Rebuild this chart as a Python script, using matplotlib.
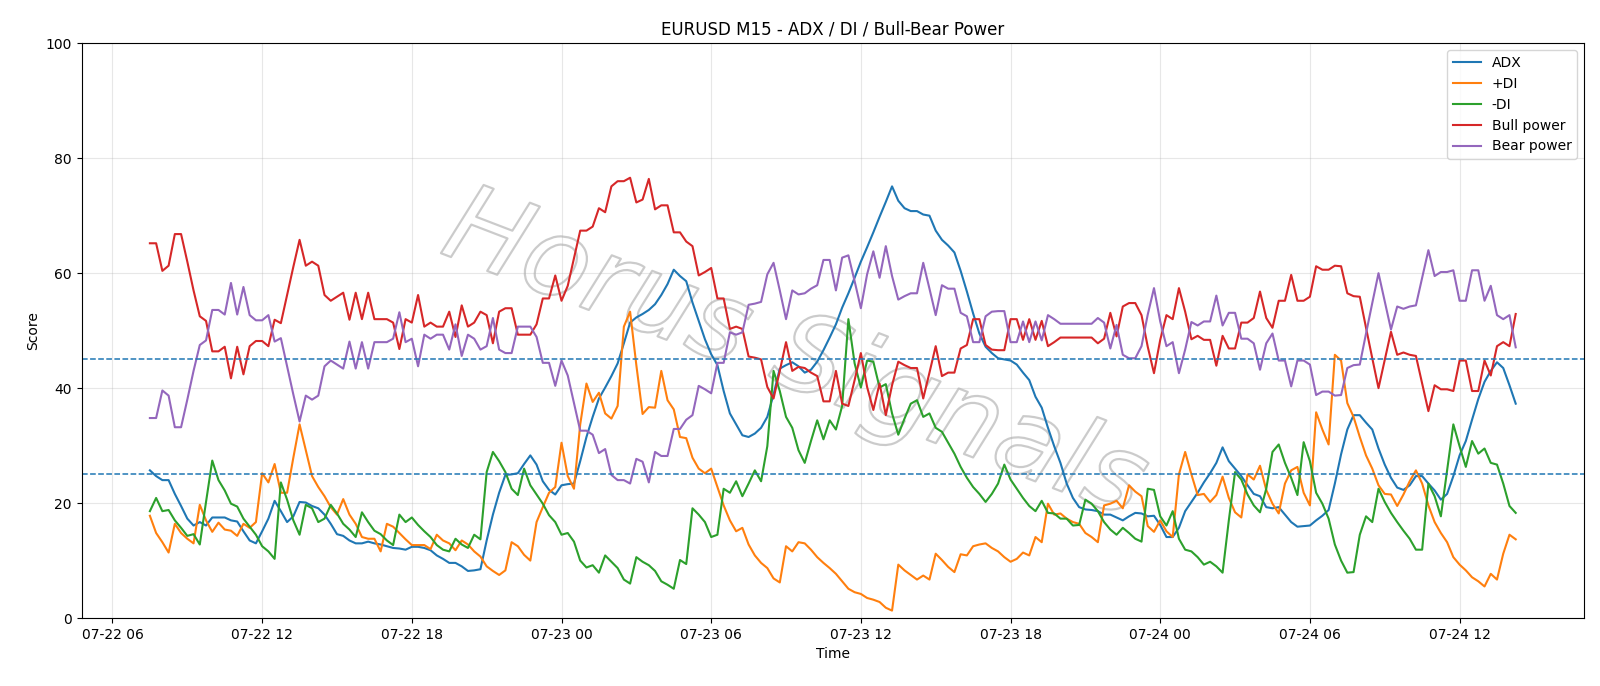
import matplotlib
matplotlib.use("Agg")
import matplotlib.pyplot as plt
import matplotlib.dates as mdates
import matplotlib.patheffects as pe
import pandas as pd

# 15-minute bars, 07-22 07:30 -> 07-24 14:15
start_time = "2025-07-22 07:30"
n_bars = 220

adx = [
    25.7, 24.7, 24.0, 24.0, 21.6, 19.5, 17.3, 16.1, 16.7, 16.1, 17.5, 17.5, 17.5, 17.0, 16.8, 15.1,
    13.5, 13.0, 15.1, 17.3, 20.4, 18.6, 16.7, 17.7, 20.2, 20.1, 19.5, 19.1, 18.0, 16.4, 14.6, 14.3, 13.5,
    13.0, 13.0, 13.3, 13.0, 12.8, 12.5, 12.2, 12.1, 11.9, 12.4, 12.4, 12.2, 11.8, 10.9, 10.3, 9.6,
    9.6, 9.0, 8.2, 8.3, 8.5, 13.5, 18.0, 21.8, 24.9, 25.0, 25.2, 26.8, 28.3, 26.7, 23.8, 22.3,
    21.5, 23.1, 23.3, 23.4, 27.3, 31.5, 35.0, 38.2, 40.1, 42.1, 44.3, 47.8, 51.4, 52.3, 52.9, 53.6,
    54.6, 56.2, 58.1, 60.6, 59.5, 58.6, 54.9, 51.7, 48.5, 45.9, 44.0, 39.5, 35.6, 33.7, 31.8, 31.5,
    32.1, 33.1, 35.0, 38.9, 43.4, 44.0, 44.5, 43.8, 42.7, 43.2, 44.6, 46.6, 48.8, 51.1, 54.0, 56.5,
    59.2, 62.0, 64.5, 67.1, 69.8, 72.4, 75.1, 72.6, 71.3, 70.8, 70.8, 70.2, 70.0, 67.4, 65.8, 64.8,
    63.6, 60.4, 56.8, 53.0, 49.5, 47.2, 46.1, 45.2, 45.0, 44.8, 44.1, 42.7, 41.4, 38.5, 36.6, 33.1,
    29.9, 27.0, 23.4, 20.9, 19.3, 18.9, 18.8, 18.6, 18.0, 18.0, 17.5, 17.0, 17.7, 18.3, 18.2, 17.7,
    17.8, 16.2, 14.1, 14.1, 15.7, 18.6, 20.2, 21.8, 23.6, 25.2, 27.0, 29.7, 27.3, 26.0, 24.7, 23.1,
    21.6, 21.2, 19.3, 19.1, 19.3, 18.0, 16.7, 15.9, 16.0, 16.1, 17.0, 17.8, 18.8, 23.4, 28.5, 32.8,
    35.3, 35.3, 34.0, 32.8, 29.5, 26.7, 24.4, 22.7, 22.3, 23.1, 24.7, 24.7, 23.4, 22.2, 20.6, 21.6,
    24.7, 28.3, 30.8, 34.5, 38.1, 41.1, 43.0, 44.5, 43.5, 40.5, 37.3,
]

plus_di = [
    17.8, 14.8, 13.2, 11.4, 16.4, 14.8, 13.8, 13.0, 19.7, 17.0, 15.0, 16.6, 15.4, 15.2, 14.3, 16.4,
    15.7, 16.7, 25.2, 23.6, 26.8, 21.8, 21.8, 27.9, 33.7, 29.2, 24.7, 22.8, 21.2, 19.3, 18.0, 20.7, 18.0,
    16.4, 14.1, 13.8, 13.8, 11.6, 16.4, 15.9, 14.8, 13.7, 12.7, 12.7, 12.7, 12.0, 14.5, 13.5, 13.0,
    11.8, 13.5, 12.8, 11.6, 10.7, 9.0, 8.2, 7.5, 8.3, 13.2, 12.5, 11.0, 10.0, 16.7, 19.3, 21.8,
    22.8, 30.5, 24.7, 22.5, 33.7, 40.8, 37.6, 39.2, 35.6, 34.7, 36.9, 50.7, 53.3, 44.0, 35.5, 36.7,
    36.6, 43.0, 37.9, 36.3, 31.5, 31.3, 27.9, 26.0, 25.2, 26.0, 22.8, 19.6, 17.0, 15.1, 15.7, 12.8,
    10.9, 9.6, 8.7, 6.9, 6.2, 12.5, 11.6, 13.2, 13.0, 11.9, 10.6, 9.6, 8.7, 7.7, 6.4, 5.1,
    4.5, 4.2, 3.5, 3.2, 2.8, 1.8, 1.3, 9.3, 8.3, 7.5, 6.7, 7.4, 6.7, 11.2, 10.1, 8.9,
    8.0, 11.1, 10.9, 12.5, 12.8, 13.0, 12.2, 11.6, 10.6, 9.8, 10.3, 11.4, 10.9, 14.1, 13.2, 19.9,
    18.0, 18.2, 17.3, 16.7, 16.4, 14.8, 14.1, 13.2, 19.6, 19.9, 20.4, 19.1, 23.1, 22.0, 21.2, 16.0,
    15.0, 17.0, 15.1, 14.1, 25.0, 28.9, 25.0, 21.4, 21.6, 20.2, 21.4, 24.6, 20.9, 18.4, 17.5, 25.0,
    24.1, 26.5, 22.3, 19.9, 18.2, 23.4, 25.7, 26.3, 21.8, 19.6, 35.8, 32.8, 30.2, 45.8, 44.8, 37.4,
    35.0, 31.5, 28.3, 26.0, 23.1, 21.6, 21.5, 19.5, 21.5, 23.8, 25.7, 23.4, 19.6, 16.7, 14.8, 13.2,
    10.6, 9.3, 8.3, 7.1, 6.4, 5.5, 7.7, 6.7, 11.2, 14.5, 13.7,
]

minus_di = [
    18.6, 20.9, 18.6, 18.8, 17.0, 15.7, 14.3, 14.6, 12.8, 20.2, 27.4, 24.0, 22.2, 19.9, 19.4, 17.3,
    15.9, 14.5, 12.5, 11.6, 10.3, 23.6, 20.6, 17.0, 14.5, 19.7, 19.1, 16.7, 17.3, 19.7, 18.2, 16.4, 15.4,
    14.1, 18.4, 16.7, 15.2, 14.6, 13.5, 12.7, 18.0, 16.7, 17.5, 16.2, 15.1, 14.1, 12.7, 11.9, 11.6,
    13.8, 12.8, 12.2, 14.5, 13.7, 25.4, 28.9, 27.3, 25.4, 22.5, 21.4, 26.0, 23.1, 21.5, 19.9, 17.9,
    16.7, 14.5, 14.8, 13.3, 10.0, 8.8, 9.2, 7.9, 10.9, 9.8, 8.7, 6.7, 6.0, 10.6, 9.8, 9.2,
    8.2, 6.4, 5.8, 5.1, 10.1, 9.4, 19.1, 18.0, 16.7, 14.1, 14.5, 22.5, 21.8, 23.8, 21.2, 23.4,
    25.7, 23.8, 29.9, 43.0, 39.5, 35.0, 33.1, 29.2, 27.0, 30.8, 34.4, 31.1, 34.4, 32.8, 36.9, 52.0,
    44.3, 40.1, 44.8, 44.6, 40.1, 40.7, 35.6, 31.9, 34.7, 37.3, 37.9, 35.0, 35.6, 33.1, 32.4, 30.5,
    28.6, 26.3, 24.4, 22.8, 21.6, 20.2, 21.6, 23.4, 26.7, 24.1, 22.5, 20.9, 19.5, 18.6, 20.4, 18.3,
    18.2, 17.3, 17.3, 16.1, 16.2, 20.6, 19.9, 18.6, 16.7, 15.4, 14.5, 15.7, 14.8, 13.8, 13.3, 22.5,
    22.3, 17.7, 16.1, 18.6, 13.8, 11.9, 11.6, 10.6, 9.3, 9.8, 9.0, 7.9, 17.0, 25.4, 24.1, 21.5,
    19.6, 18.4, 22.5, 28.9, 30.2, 27.0, 24.4, 21.4, 30.6, 27.3, 21.8, 19.9, 17.3, 12.8, 10.0, 7.9,
    8.0, 14.5, 17.7, 16.7, 22.5, 20.2, 18.3, 16.7, 15.2, 13.8, 11.9, 11.9, 23.4, 21.2, 17.7, 25.7,
    33.7, 29.9, 26.3, 30.8, 28.6, 29.5, 27.0, 26.7, 23.4, 19.5, 18.3,
]

bull_power = [
    65.2, 65.2, 60.4, 61.3, 66.8, 66.8, 62.0, 57.0, 52.5, 51.7, 46.4, 46.4, 47.2, 41.7, 47.2, 42.4,
    47.3, 48.2, 48.2, 47.3, 51.9, 51.3, 56.2, 61.1, 65.8, 61.3, 62.0, 61.3, 56.2, 55.2, 55.9, 56.6, 51.9,
    56.6, 52.0, 56.6, 52.0, 52.0, 52.0, 51.4, 46.8, 52.0, 51.4, 56.2, 50.7, 51.4, 50.7, 50.7, 53.3,
    48.9, 54.4, 50.7, 51.4, 53.3, 52.7, 47.8, 53.3, 53.9, 53.9, 49.3, 49.3, 49.3, 51.1, 55.6, 55.6,
    59.6, 55.2, 57.8, 62.6, 67.4, 67.4, 68.1, 71.3, 70.6, 75.1, 76.0, 76.0, 76.6, 72.3, 72.8, 76.4,
    71.1, 71.8, 71.8, 67.1, 67.1, 65.5, 64.7, 59.6, 60.2, 60.9, 55.6, 55.6, 50.3, 50.7, 50.3, 45.5,
    45.3, 45.0, 40.2, 38.2, 43.0, 48.0, 43.0, 43.7, 43.5, 42.7, 42.1, 37.7, 37.7, 43.0, 37.3, 36.9,
    41.4, 46.1, 40.2, 36.2, 40.8, 35.3, 40.5, 44.6, 44.0, 43.5, 43.5, 38.2, 42.7, 47.3, 42.1, 42.7,
    42.7, 46.9, 47.5, 52.0, 52.0, 47.5, 46.7, 46.6, 46.6, 52.0, 52.0, 48.4, 52.0, 48.4, 51.7, 47.3,
    48.0, 48.8, 48.8, 48.8, 48.8, 48.8, 48.8, 47.8, 48.6, 53.1, 49.0, 54.2, 54.8, 54.8, 52.7, 47.2,
    42.6, 48.4, 52.7, 52.0, 57.4, 53.3, 48.5, 49.1, 48.4, 48.4, 43.9, 49.1, 46.9, 46.9, 51.4, 51.4,
    52.2, 56.8, 52.2, 50.5, 55.2, 55.2, 59.7, 55.2, 55.2, 55.9, 61.2, 60.6, 60.6, 61.3, 61.2, 56.5,
    56.0, 55.9, 50.5, 45.2, 40.0, 44.9, 49.8, 45.8, 46.2, 45.8, 45.6, 40.8, 36.0, 40.5, 39.8, 39.8,
    39.5, 44.8, 44.8, 39.5, 39.5, 44.8, 42.2, 47.3, 48.0, 47.3, 52.9,
]

bear_power = [
    34.8, 34.8, 39.6, 38.7, 33.2, 33.2, 38.0, 43.0, 47.5, 48.3, 53.6, 53.6, 52.8, 58.3, 52.8, 57.6,
    52.7, 51.8, 51.8, 52.7, 48.1, 48.7, 43.8, 38.9, 34.2, 38.7, 38.0, 38.7, 43.8, 44.8, 44.1, 43.4, 48.1,
    43.4, 48.0, 43.4, 48.0, 48.0, 48.0, 48.6, 53.2, 48.0, 48.6, 43.8, 49.3, 48.6, 49.3, 49.3, 46.7,
    51.1, 45.6, 49.3, 48.6, 46.7, 47.3, 52.2, 46.7, 46.1, 46.1, 50.7, 50.7, 50.7, 48.9, 44.4, 44.4,
    40.4, 44.8, 42.2, 37.4, 32.6, 32.6, 31.9, 28.7, 29.4, 24.9, 24.0, 24.0, 23.4, 27.7, 27.2, 23.6,
    28.9, 28.2, 28.2, 32.9, 32.9, 34.5, 35.3, 40.4, 39.8, 39.1, 44.4, 44.4, 49.7, 49.3, 49.7, 54.5,
    54.7, 55.0, 59.8, 61.8, 57.0, 52.0, 57.0, 56.3, 56.5, 57.3, 57.9, 62.3, 62.3, 57.0, 62.7, 63.1,
    58.6, 53.9, 59.8, 63.8, 59.2, 64.7, 59.5, 55.4, 56.0, 56.5, 56.5, 61.8, 57.3, 52.7, 57.9, 57.3,
    57.3, 53.1, 52.5, 48.0, 48.0, 52.5, 53.3, 53.4, 53.4, 48.0, 48.0, 51.6, 48.0, 51.6, 48.3, 52.7,
    52.0, 51.2, 51.2, 51.2, 51.2, 51.2, 51.2, 52.2, 51.4, 46.9, 51.0, 45.8, 45.2, 45.2, 47.3, 52.8,
    57.4, 51.6, 47.3, 48.0, 42.6, 46.7, 51.5, 50.9, 51.6, 51.6, 56.1, 50.9, 53.1, 53.1, 48.6, 48.6,
    47.8, 43.2, 47.8, 49.5, 44.8, 44.8, 40.3, 44.8, 44.8, 44.1, 38.8, 39.4, 39.4, 38.7, 38.8, 43.5,
    44.0, 44.1, 49.5, 54.8, 60.0, 55.1, 50.2, 54.2, 53.8, 54.2, 54.4, 59.2, 64.0, 59.5, 60.2, 60.2,
    60.5, 55.2, 55.2, 60.5, 60.5, 55.2, 57.8, 52.7, 52.0, 52.7, 47.1,
]

levels = [25, 45]

times = pd.date_range(start_time, periods=n_bars, freq="15min")

fig, ax = plt.subplots(figsize=(16, 6.86), dpi=100)
fig.subplots_adjust(left=0.051, right=0.99, top=0.937, bottom=0.099)

ax.plot(times, adx, label="ADX", lw=1.5)
ax.plot(times, plus_di, label="+DI", lw=1.5)
ax.plot(times, minus_di, label="-DI", lw=1.5)
ax.plot(times, bull_power, label="Bull power", lw=1.5)
ax.plot(times, bear_power, label="Bear power", lw=1.5)

for lvl in levels:
    ax.axhline(lvl, color="C0", ls="--", lw=1.1)

# watermark
ax.text(0.475, 0.455, "Horus Signals", transform=ax.transAxes, fontsize=78,
        style="italic", rotation=-21, ha="center", va="center",
        color=(1, 1, 1, 0), zorder=0,
        path_effects=[pe.withStroke(linewidth=1.6, foreground=(0.6, 0.6, 0.6, 0.5))])

ax.set_ylim(0, 100)
ax.xaxis.set_major_locator(mdates.HourLocator(byhour=[0, 6, 12, 18]))
ax.xaxis.set_major_formatter(mdates.DateFormatter("%m-%d %H"))
ax.grid(True, alpha=0.3)
ax.set_title("EURUSD M15 - ADX / DI / Bull-Bear Power")
ax.set_xlabel("Time")
ax.set_ylabel("Score")
ax.legend(loc="upper right")

fig.savefig("out.png", dpi=100)
